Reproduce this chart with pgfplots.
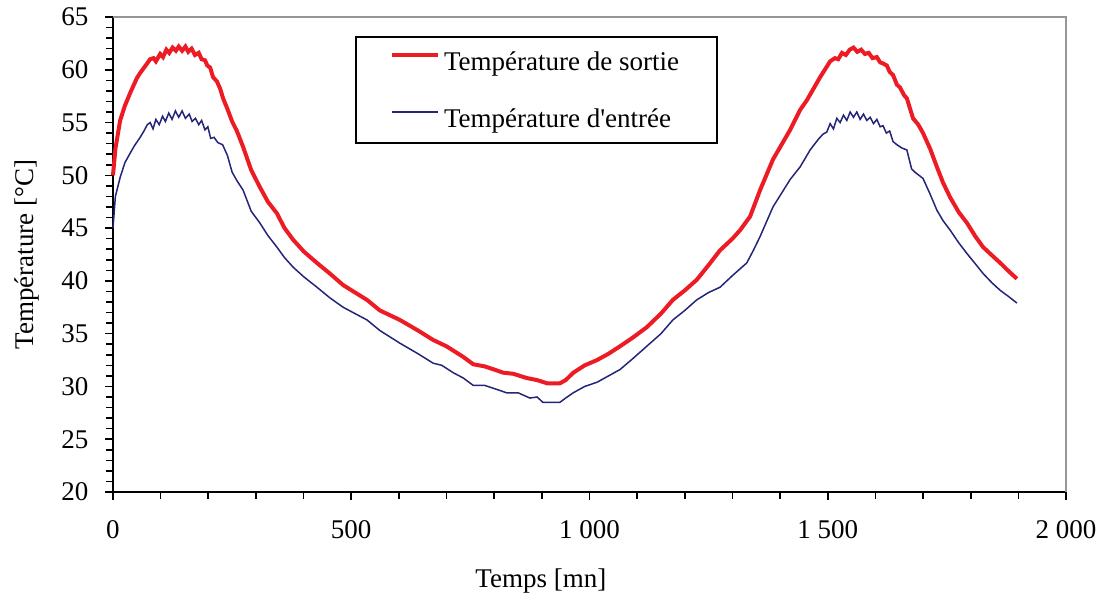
\documentclass[border=0pt]{standalone}
\usepackage{fontspec}
\setmainfont{Liberation Serif}
\usepackage{pgfplots}
\pgfplotsset{compat=1.18}
\definecolor{sortie}{RGB}{237,28,36}
\definecolor{entree}{RGB}{36,36,120}
\definecolor{cadre}{RGB}{150,150,150}

\begin{document}
\begin{tikzpicture}[font=\fontsize{13.5}{16}\selectfont]
\begin{axis}[
  width=476.5pt, height=237.5pt, scale only axis,
  xmin=0, xmax=2000, ymin=20, ymax=65,
  clip=false,
  axis x line*=bottom, axis y line*=left,
  axis line style={line width=1pt, black},
  xtick={0,500,...,2000}, minor xtick={100,200,...,1900},
  ytick={20,25,...,65}, minor ytick={21,22,...,64},
  tick align=outside, major tick length=3.8pt, minor tick length=3.5pt,
  every tick/.style={black, line width=0.8pt},
  /pgf/number format/assume math mode=true,
  /pgf/number format/1000 sep={\ },
  xticklabel style={yshift=-7pt},
  yticklabel style={xshift=-5pt},
  xlabel={Temps [mn]}, ylabel={Température [°C]},
  x label style={at={(ticklabel cs:0.449)}, anchor=north, yshift=-8pt},
  y label style={yshift=4pt},
  legend cell align=left,
  legend style={at={(rel axis cs:0.254,0.96)}, anchor=north west,
    draw=black, line width=1pt, inner xsep=17pt, inner ysep=5.5pt,
    row sep=15pt, nodes={text depth=0pt}},
  legend image code/.code={\draw[#1] (0pt,3pt) -- (23pt,3pt);},
]
\draw[cadre, line width=0.8pt] (rel axis cs:0,1) -- (rel axis cs:1,1) -- (rel axis cs:1,0);

% Température de sortie
\addplot[sortie, line width=2pt] coordinates {
(0,50.0)(5,52.5)(15,55.2)(25,56.6)(36,57.8)(50,59.2)(57,59.7)(70,60.5)
(78,61.0)(85,61.1)(90,60.8)(99,61.5)(105,61.2)(112,61.9)(118,61.6)(125,62.1)
(132,61.8)(138,62.2)(145,61.8)(152,62.2)(158,61.7)(165,62.0)(172,61.4)(180,61.6)
(186,61.0)(193,60.9)(198,60.4)(204,60.2)(210,59.3)(218,58.9)(225,58.2)(231,57.3)
(240,56.3)(250,55.1)(260,54.2)(273,52.7)(290,50.5)(308,48.9)(325,47.5)(344,46.4)
(360,45.0)(378,43.9)(400,42.8)(428,41.7)(455,40.7)(483,39.6)(508,38.9)(533,38.2)
(560,37.2)(602,36.3)(640,35.3)(672,34.4)(700,33.8)(714,33.4)(735,32.8)(756,32.1)
(780,31.9)(800,31.6)(819,31.3)(840,31.2)(868,30.8)(890,30.6)(911,30.3)(938,30.3)
(950,30.6)(966,31.3)(990,32.0)(1016,32.5)(1040,33.1)(1064,33.8)(1090,34.6)(1120,35.6)
(1150,36.9)(1175,38.2)(1200,39.1)(1225,40.1)(1250,41.5)(1274,42.9)(1300,44.0)(1316,44.8)
(1337,46.1)(1358,48.6)(1385,51.5)(1421,54.3)(1442,56.2)(1456,57.1)(1484,59.3)(1505,60.8)
(1515,61.1)(1522,61.0)(1530,61.6)(1538,61.4)(1546,61.9)(1554,62.1)(1562,61.7)(1570,61.9)
(1578,61.5)(1586,61.6)(1594,61.1)(1603,61.2)(1610,60.7)(1616,60.6)(1624,60.4)(1630,59.8)
(1637,59.5)(1645,58.6)(1652,58.3)(1660,57.6)(1666,57.3)(1679,55.4)(1690,54.8)(1700,54.0)
(1715,52.5)(1729,50.8)(1742,49.3)(1757,47.9)(1775,46.5)(1792,45.5)(1810,44.2)(1826,43.2)
(1845,42.4)(1862,41.7)(1880,40.9)(1897,40.2)
};
\addlegendentry{Température de sortie}

% Température d'entrée
\addplot[entree, line width=0.75pt] coordinates {
(0,45.0)(5,48.0)(15,49.8)(25,51.2)(36,52.1)(45,52.8)(57,53.6)(65,54.2)
(72,54.8)(78,55.0)(84,54.4)(90,55.3)(97,54.8)(104,55.6)(110,55.1)(117,55.9)
(124,55.3)(131,56.1)(138,55.5)(145,56.1)(152,55.4)(160,55.8)(166,55.1)(173,55.4)
(180,54.8)(186,55.2)(193,54.3)(199,54.6)(205,53.5)(212,53.6)(220,53.1)(230,52.9)
(240,51.9)(250,50.3)(260,49.5)(273,48.6)(290,46.6)(308,45.5)(325,44.3)(344,43.2)
(360,42.2)(378,41.3)(400,40.4)(428,39.4)(455,38.4)(483,37.5)(508,36.9)(533,36.3)
(560,35.3)(602,34.1)(640,33.1)(672,32.2)(690,32.0)(714,31.3)(735,30.8)(756,30.1)
(780,30.1)(800,29.8)(826,29.4)(850,29.4)(875,28.9)(890,29.0)(902,28.5)(920,28.5)
(938,28.5)(950,28.9)(966,29.4)(990,30.0)(1016,30.4)(1040,31.0)(1064,31.6)(1090,32.6)
(1120,33.8)(1150,35.0)(1175,36.3)(1200,37.2)(1225,38.2)(1250,38.9)(1274,39.4)(1300,40.5)
(1330,41.7)(1344,42.9)(1358,44.2)(1385,47.0)(1421,49.6)(1442,50.8)(1463,52.4)(1480,53.4)
(1490,53.9)(1498,54.1)(1505,54.9)(1512,54.4)(1519,55.4)(1526,55.0)(1533,55.7)(1540,55.2)
(1547,56.0)(1554,55.5)(1561,56.0)(1568,55.3)(1575,55.8)(1582,55.2)(1589,55.5)(1596,54.9)
(1603,55.3)(1610,54.6)(1616,54.7)(1623,54.0)(1630,54.2)(1637,53.2)(1645,52.9)(1655,52.6)
(1666,52.4)(1676,50.6)(1683,50.3)(1700,49.7)(1715,48.2)(1729,46.7)(1742,45.7)(1757,44.8)
(1775,43.6)(1792,42.6)(1810,41.6)(1826,40.7)(1845,39.8)(1862,39.1)(1880,38.5)(1897,37.9)
};
\addlegendentry{Température d\textquotesingle entrée}
\end{axis}
\pgfresetboundingbox
\path[use as bounding box] ([xshift=-56.5pt,yshift=-52.5pt]current axis.south west)
  rectangle ([xshift=19pt,yshift=8.5pt]current axis.north east);
\end{tikzpicture}
\end{document}
